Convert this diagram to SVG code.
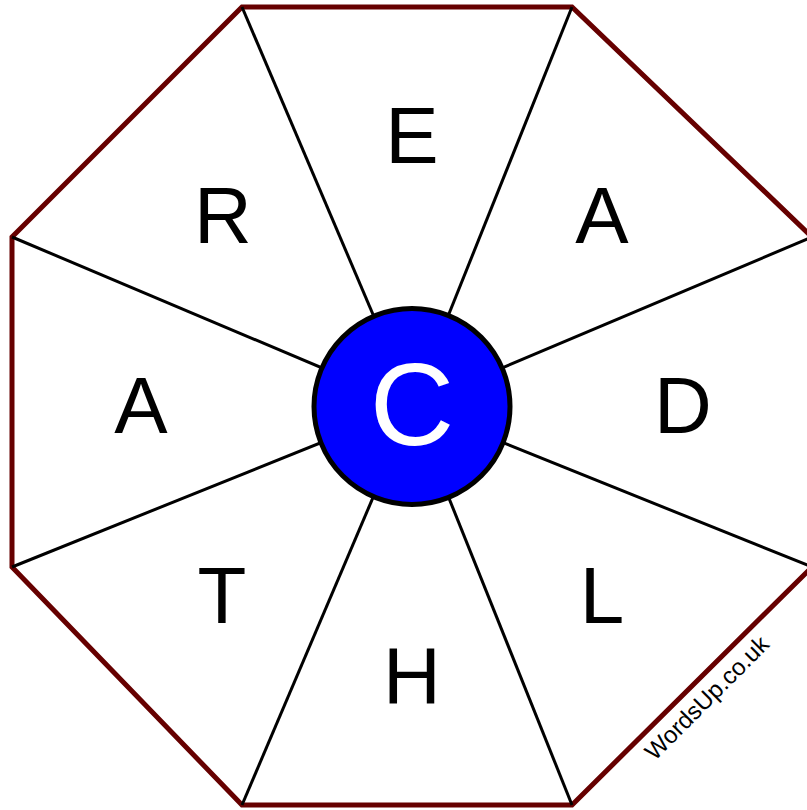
<svg xmlns="http://www.w3.org/2000/svg" width="807" height="810" viewBox="0 0 807 810">
<style>
.spoke{stroke:#000;stroke-width:3;fill:none}
.lt{font-family:"Liberation Sans",Arial,sans-serif;font-size:80px;fill:#000;text-anchor:middle}
</style>
<rect width="807" height="810" fill="#fff"/>
<g id="octagon">
<polygon points="242,7 572,7 812,237 812,567 572,805 242,805 12,567 12,237" fill="#fff" stroke="#660000" stroke-width="5"/>
</g>
<g id="connectors">
<line class="spoke" x1="412" y1="406" x2="242" y2="7"/>
<line class="spoke" x1="412" y1="406" x2="572" y2="7"/>
<line class="spoke" x1="412" y1="406" x2="812" y2="237"/>
<line class="spoke" x1="412" y1="406" x2="812" y2="567"/>
<line class="spoke" x1="412" y1="406" x2="572" y2="805"/>
<line class="spoke" x1="412" y1="406" x2="242" y2="805"/>
<line class="spoke" x1="412" y1="406" x2="12" y2="567"/>
<line class="spoke" x1="412" y1="406" x2="12" y2="237"/>
</g>
<g id="node-E"><text class="lt" x="412" y="163">E</text></g>
<g id="node-A1"><text class="lt" x="602" y="243">A</text></g>
<g id="node-D"><text class="lt" x="683" y="433">D</text></g>
<g id="node-L"><text class="lt" x="602" y="623">L</text></g>
<g id="node-H"><text class="lt" x="412" y="703">H</text></g>
<g id="node-T"><text class="lt" x="222" y="623">T</text></g>
<g id="node-A2"><text class="lt" x="141" y="433">A</text></g>
<g id="node-R"><text class="lt" x="223" y="243">R</text></g>
<g id="node-C">
<circle cx="412" cy="406.5" r="98" fill="#0000ff" stroke="#000" stroke-width="5"/>
<text x="412" y="445" font-family="'Liberation Sans',Arial,sans-serif" font-size="117" fill="#fff" text-anchor="middle">C</text>
</g>
<g id="watermark">
<text x="707" y="706" transform="rotate(-45 707 698)" font-family="'Liberation Sans',Arial,sans-serif" font-size="24" fill="#000" text-anchor="middle">WordsUp.co.uk</text>
</g>
</svg>
